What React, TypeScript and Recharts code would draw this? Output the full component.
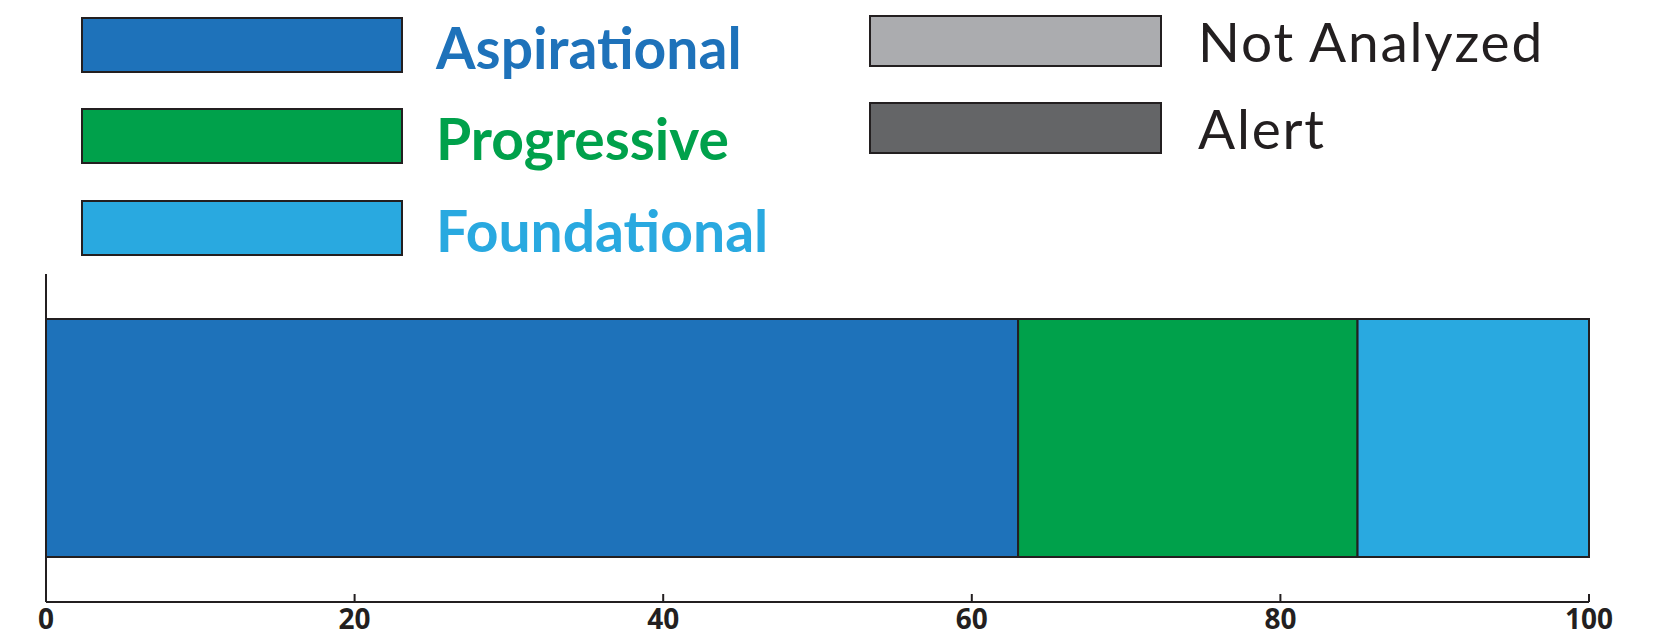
import { BarChart, Bar, XAxis, YAxis } from 'recharts'

const categories = ['Level']
const aspirational = [63]
const progressive = [22]
const foundational = [15]
const xTicks = [0, 20, 40, 60, 80, 100]

const series = [
  { key: 'aspirational', name: 'Aspirational', color: '#1e72ba' },
  { key: 'progressive', name: 'Progressive', color: '#00a14b' },
  { key: 'foundational', name: 'Foundational', color: '#29a9e0' },
]
const extraLegend = [
  { name: 'Not Analyzed', color: '#abacaf' },
  { name: 'Alert', color: '#646567' },
]

const data = categories.map((c, i) => ({
  name: c,
  aspirational: aspirational[i],
  progressive: progressive[i],
  foundational: foundational[i],
}))

const INK = '#231f20'

function Tick(props: any) {
  const { x, y, payload } = props
  return (
    <g>
      <line x1={x} x2={x} y1={y - 8} y2={y} stroke={INK} strokeWidth={2} />
      <text
        x={x}
        y={y + 16}
        textAnchor="middle"
        dominantBaseline="central"
        fontFamily="'Open Sans', sans-serif"
        fontWeight={700}
        fontSize={28}
        fill={INK}
      >
        {payload.value}
      </text>
    </g>
  )
}

function LegendBlock() {
  const leftY = [45, 136, 228]
  const rightY = [41, 128]
  return (
    <svg width={1657} height={274} style={{ position: 'absolute', left: 0, top: 0 }}>
      {series.map((s, i) => (
        <g key={s.key}>
          <rect x={82} y={leftY[i] - 27} width={320} height={54} fill={s.color} stroke={INK} strokeWidth={2} />
          <text
            x={436}
            y={leftY[i] + 2}
            dominantBaseline="central"
            fontFamily="Lato, sans-serif"
            fontWeight={700}
            fontSize={57}
            fill={s.color}
          >
            {s.name}
          </text>
        </g>
      ))}
      {extraLegend.map((s, i) => (
        <g key={s.name}>
          <rect x={870} y={rightY[i] - 25} width={291} height={50} fill={s.color} stroke={INK} strokeWidth={2} />
          <text
            x={1198}
            y={rightY[i]}
            dominantBaseline="central"
            fontFamily="Lato, sans-serif"
            fontWeight={400}
            fontSize={55}
            letterSpacing={1.8}
            fill={INK}
          >
            {s.name}
          </text>
        </g>
      ))}
    </svg>
  )
}

export default function App() {
  return (
    <div style={{ position: 'absolute', left: 0, top: 0, width: 1657, height: 637, background: '#fff' }}>
      <LegendBlock />
      <div style={{ position: 'absolute', left: 0, top: 0 }}>
        <BarChart
          width={1657}
          height={637}
          data={data}
          layout="vertical"
          barCategoryGap={45}
          margin={{ top: 274, right: 68, bottom: 0, left: 44 }}
        >
          <XAxis
            type="number"
            domain={[0, 100]}
            ticks={xTicks}
            height={35}
            tickSize={0}
            tickMargin={0}
            tick={<Tick />}
            axisLine={{ stroke: INK, strokeWidth: 2 }}
            interval={0}
          />
          <YAxis
            type="category"
            dataKey="name"
            width={2}
            tick={false}
            tickLine={false}
            axisLine={{ stroke: INK, strokeWidth: 2 }}
          />
          {series.map((s) => (
            <Bar
              key={s.key}
              dataKey={s.key}
              name={s.name}
              stackId="a"
              fill={s.color}
              stroke={INK}
              strokeWidth={2}
              isAnimationActive={false}
            />
          ))}
        </BarChart>
      </div>
    </div>
  )
}
